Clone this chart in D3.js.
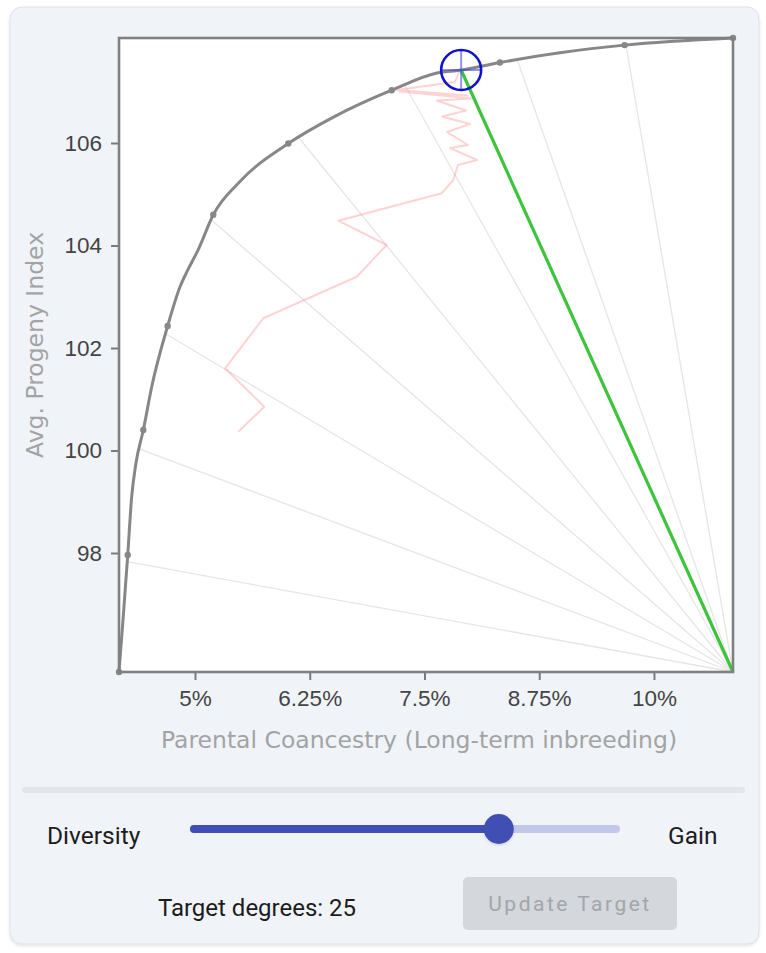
<!DOCTYPE html>
<html>
<head>
<meta charset="utf-8">
<script src="https://cdn.jsdelivr.net/npm/d3@7"></script>
<style>
  body { margin: 0; background: #ffffff; }
  svg { display: block; }
</style>
</head>
<body>
<svg id="chart" width="766" height="953"></svg>
<script>
// efficient frontier: parental coancestry (%) vs avg. progeny index
const frontierCoancestry = [4.172, 4.218, 4.267, 4.310, 4.357, 4.437, 4.528, 4.702, 4.836, 4.915, 5.033,
  5.199, 5.490, 6.016, 6.503, 7.143, 7.647, 7.887, 8.322, 8.976, 9.680, 10.861];
const frontierGain = [95.678, 96.751, 97.960, 99.093, 99.756, 100.40, 101.24, 102.43, 103.19, 103.50, 103.91,
  104.60, 105.25, 105.99, 106.50, 107.03, 107.37, 107.42, 107.57, 107.76, 107.91, 108.049];
// which frontier points carry a dot
const dotIndex = [0, 2, 5, 7, 11, 13, 15, 18, 20, 21];

// history of the optimiser on its way to the target (pink trail)
const trailCoancestry = [5.472, 5.755, 5.327, 5.744, 6.761, 7.088, 6.561, 7.687, 7.814, 7.865, 8.072, 7.778,
  7.974, 7.745, 7.996, 7.691, 7.952, 7.636, 8.017, 7.233, 7.974, 7.190, 7.832, 7.887];
const trailGain = [100.367, 100.855, 101.604, 102.580, 103.391, 104.010, 104.484, 105.019, 105.278, 105.571,
  105.668, 105.902, 105.961, 106.215, 106.371, 106.517, 106.634, 106.829, 106.868, 107.005, 106.927, 107.034,
  107.190, 107.424];

const rayAngles = [10, 20, 30, 40, 50, 60, 70, 80];
const targetDegrees = 25;
const sliderRange = [90, 0];

const xTicks = [5, 6.25, 7.5, 8.75, 10];
const yTicks = [98, 100, 102, 104, 106];

const margin = { top: 38, left: 119 };
const width = 614, height = 634;

const svg = d3.select("#chart");

// card
const defs = svg.append("defs");
const shadow = defs.append("filter").attr("id", "shadow")
  .attr("x", "-5%").attr("y", "-5%").attr("width", "110%").attr("height", "110%");
shadow.append("feDropShadow").attr("dx", 0).attr("dy", 1.5).attr("stdDeviation", 1.5)
  .attr("flood-color", "#000").attr("flood-opacity", 0.12);

svg.append("rect")
  .attr("x", 10).attr("y", 7).attr("width", 749).attr("height", 937)
  .attr("rx", 12)
  .attr("fill", "#f0f4f9")
  .attr("stroke", "#dde2e8")
  .attr("filter", "url(#shadow)");

const x = d3.scaleLinear()
  .domain(d3.extent(frontierCoancestry))
  .range([margin.left, margin.left + width]);
const y = d3.scaleLinear()
  .domain(d3.extent(frontierGain))
  .range([margin.top + height, margin.top]);

// plot background
svg.append("rect")
  .attr("x", margin.left).attr("y", margin.top)
  .attr("width", width).attr("height", height)
  .attr("fill", "#ffffff");

const frontier = frontierCoancestry.map((c, i) => [x(c), y(frontierGain[i])]);
const corner = [x.range()[1], y.range()[0]];

// where a ray from the bottom-right corner at `deg` (from vertical) meets the frontier
function rayHit(deg) {
  const a = deg * Math.PI / 180;
  const dx = -Math.sin(a) * width, dy = -Math.cos(a) * height;
  for (let i = 0; i < frontier.length - 1; i++) {
    const p = frontier[i], q = frontier[i + 1];
    const ex = q[0] - p[0], ey = q[1] - p[1];
    const den = dx * ey - dy * ex;
    if (!den) continue;
    const t = ((p[0] - corner[0]) * ey - (p[1] - corner[1]) * ex) / den;
    const s = ((p[0] - corner[0]) * dy - (p[1] - corner[1]) * dx) / den;
    if (s >= 0 && s <= 1 && t > 0) return [corner[0] + t * dx, corner[1] + t * dy];
  }
  return corner;
}

// radial guide lines
svg.append("g")
  .selectAll("line")
  .data(rayAngles)
  .join("line")
  .attr("x1", corner[0]).attr("y1", corner[1])
  .attr("x2", d => rayHit(d)[0]).attr("y2", d => rayHit(d)[1])
  .attr("stroke", "#e6e6e6")
  .attr("stroke-width", 1.3);

// trail
svg.append("path")
  .datum(trailCoancestry.map((c, i) => [c, trailGain[i]]))
  .attr("fill", "none")
  .attr("stroke", "#ff8080")
  .attr("stroke-opacity", 0.35)
  .attr("stroke-width", 2)
  .attr("stroke-linejoin", "round")
  .attr("d", d3.line().x(d => x(d[0])).y(d => y(d[1])));

// frontier
svg.append("path")
  .datum(frontier)
  .attr("fill", "none")
  .attr("stroke", "#878787")
  .attr("stroke-width", 3)
  .attr("stroke-linejoin", "round")
  .attr("d", d3.line().curve(d3.curveMonotoneX));

svg.append("g")
  .selectAll("circle")
  .data(dotIndex)
  .join("circle")
  .attr("cx", i => x(frontierCoancestry[i]))
  .attr("cy", i => y(frontierGain[i]))
  .attr("r", 3.2)
  .attr("fill", "#878787");

// target
const target = rayHit(targetDegrees);
svg.append("line")
  .attr("x1", corner[0]).attr("y1", corner[1])
  .attr("x2", target[0]).attr("y2", target[1])
  .attr("stroke", "#3cc43c")
  .attr("stroke-width", 3.2);

const r = 20;
svg.append("line")
  .attr("x1", target[0] - r).attr("x2", target[0] + r)
  .attr("y1", target[1]).attr("y2", target[1])
  .attr("stroke", "#3a3ae0").attr("stroke-opacity", 0.55).attr("stroke-width", 2);
svg.append("line")
  .attr("x1", target[0]).attr("x2", target[0])
  .attr("y1", target[1] - r).attr("y2", target[1] + r)
  .attr("stroke", "#3a3ae0").attr("stroke-opacity", 0.55).attr("stroke-width", 2);
svg.append("circle")
  .attr("cx", target[0]).attr("cy", target[1]).attr("r", r)
  .attr("fill", "none")
  .attr("stroke", "#1212cc")
  .attr("stroke-width", 2.6);

// axes
const xAxis = svg.append("g")
  .attr("transform", `translate(0,${margin.top + height})`)
  .call(d3.axisBottom(x).tickValues(xTicks).tickSize(8).tickPadding(10)
    .tickFormat(d => d + "%"));
const yAxis = svg.append("g")
  .attr("transform", `translate(${margin.left},0)`)
  .call(d3.axisLeft(y).tickValues(yTicks).tickSize(8).tickPadding(9));

[xAxis, yAxis].forEach(g => {
  g.select(".domain").remove();
  g.selectAll(".tick line").attr("stroke", "#7a7a7a").attr("stroke-width", 2);
  g.selectAll(".tick text")
    .attr("fill", "#444")
    .style("font-family", "'Liberation Sans', Arial, sans-serif")
    .style("font-size", "22.5px");
});

// frame
svg.append("rect")
  .attr("x", margin.left).attr("y", margin.top)
  .attr("width", width).attr("height", height)
  .attr("fill", "none")
  .attr("stroke", "#808080")
  .attr("stroke-width", 2.6);

svg.append("text")
  .attr("x", 419).attr("y", 748)
  .attr("text-anchor", "middle")
  .attr("fill", "#a3a3a3")
  .style("font-family", "'DejaVu Sans', sans-serif")
  .style("font-size", "23.5px")
  .text("Parental Coancestry (Long-term inbreeding)");

svg.append("text")
  .attr("transform", "translate(43,345) rotate(-90)")
  .attr("text-anchor", "middle")
  .attr("fill", "#a3a3a3")
  .style("font-family", "'DejaVu Sans', sans-serif")
  .style("font-size", "23.5px")
  .text("Avg. Progeny Index");

// divider
svg.append("rect")
  .attr("x", 22).attr("y", 787).attr("width", 723).attr("height", 6)
  .attr("rx", 3).attr("fill", "#e2e6eb");

// slider
const ui = "Roboto, sans-serif";
const s = d3.scaleLinear().domain(sliderRange).range([194, 616]);
const trackY = 829;
svg.append("line")
  .attr("x1", s.range()[0]).attr("x2", s.range()[1])
  .attr("y1", trackY).attr("y2", trackY)
  .attr("stroke", "#c3c7ea").attr("stroke-width", 8).attr("stroke-linecap", "round");
svg.append("line")
  .attr("x1", s.range()[0]).attr("x2", s(targetDegrees))
  .attr("y1", trackY).attr("y2", trackY)
  .attr("stroke", "#3f4fb3").attr("stroke-width", 8).attr("stroke-linecap", "round");
svg.append("circle")
  .attr("cx", s(targetDegrees)).attr("cy", trackY).attr("r", 15)
  .attr("fill", "#3f4fb3")
  .attr("filter", "url(#shadow)");

svg.append("text")
  .attr("x", 47).attr("y", 844)
  .attr("fill", "#1c1c1c")
  .style("font-family", ui).style("font-size", "24.5px")
  .text("Diversity");
svg.append("text")
  .attr("x", 668).attr("y", 844)
  .attr("fill", "#1c1c1c")
  .style("font-family", ui).style("font-size", "24.5px")
  .text("Gain");

svg.append("text")
  .attr("x", 257).attr("y", 916)
  .attr("text-anchor", "middle")
  .attr("fill", "#1c1c1c")
  .style("font-family", ui).style("font-size", "24px")
  .text(`Target degrees: ${targetDegrees}`);

// button
svg.append("rect")
  .attr("x", 463).attr("y", 877).attr("width", 214).attr("height", 53)
  .attr("rx", 5).attr("fill", "#d4d7db");
svg.append("text")
  .attr("x", 570).attr("y", 911)
  .attr("text-anchor", "middle")
  .attr("fill", "#a2a6ab")
  .style("font-family", ui).style("font-size", "21px")
  .style("letter-spacing", "2.5px")
  .text("Update Target");
</script>
</body>
</html>
